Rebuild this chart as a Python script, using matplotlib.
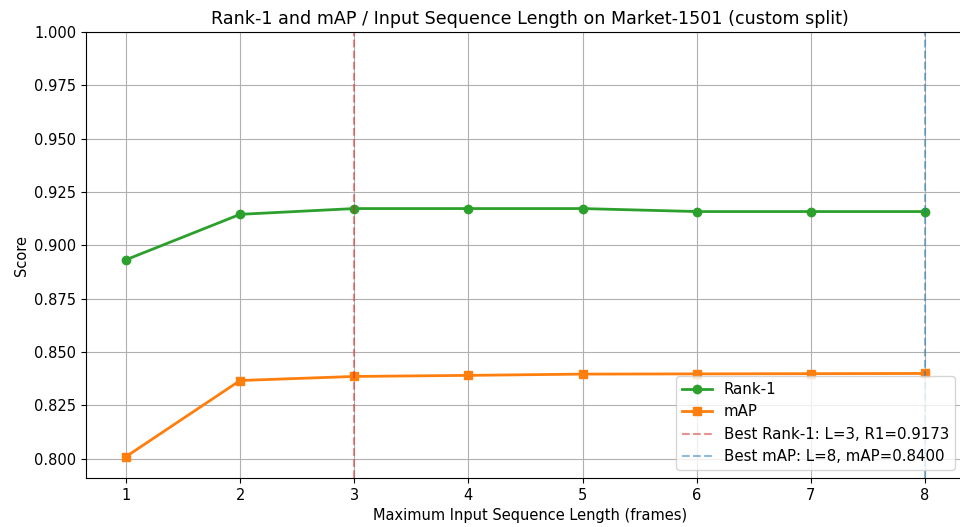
import numpy as np
import matplotlib
matplotlib.use("Agg")
import matplotlib.pyplot as plt

plt.rcParams["font.size"] = 10.5

seq_len = [1, 2, 3, 4, 5, 6, 7, 8]
rank1 = [0.8933, 0.9146, 0.9173, 0.9173, 0.9173, 0.9159, 0.9159, 0.9159]
mAP = [0.8010, 0.8367, 0.8386, 0.8391, 0.8397, 0.8398, 0.8399, 0.8400]

best_r1_idx = int(np.argmax(rank1))
best_map_idx = int(np.argmax(mAP))

fig = plt.figure(figsize=(9.6, 5.27), dpi=100)
# axes runs past the right edge, as in the reference (cropped figure)
ax = fig.add_axes([0.0896, 0.093, 0.925, 0.846])

ax.plot(seq_len, rank1, "o-", color="tab:green", linewidth=2, markersize=6, label="Rank-1")
ax.plot(seq_len, mAP, "s-", color="tab:orange", linewidth=2, markersize=6, label="mAP")
ax.axvline(seq_len[best_r1_idx], color="tab:red", linestyle="--", alpha=0.5,
           label=f"Best Rank-1: L={seq_len[best_r1_idx]}, R1={rank1[best_r1_idx]:.4f}")
ax.axvline(seq_len[best_map_idx], color="tab:blue", linestyle="--", alpha=0.5,
           label=f"Best mAP: L={seq_len[best_map_idx]}, mAP={mAP[best_map_idx]:.4f}")

ax.set_xlim(0.65, 8.43)
ax.set_ylim(0.791, 1.0)
ax.set_xticks(seq_len)
ax.set_xlabel("Maximum Input Sequence Length (frames)")
ax.set_ylabel("Score")
ax.set_title("Rank-1 and mAP / Input Sequence Length on Market-1501 (custom split)")
ax.grid(True)
ax.legend(loc="lower right", bbox_to_anchor=(0.987, 0.0), borderaxespad=0.5,
          fontsize=10.8)

fig.savefig("out.png", dpi=100)
